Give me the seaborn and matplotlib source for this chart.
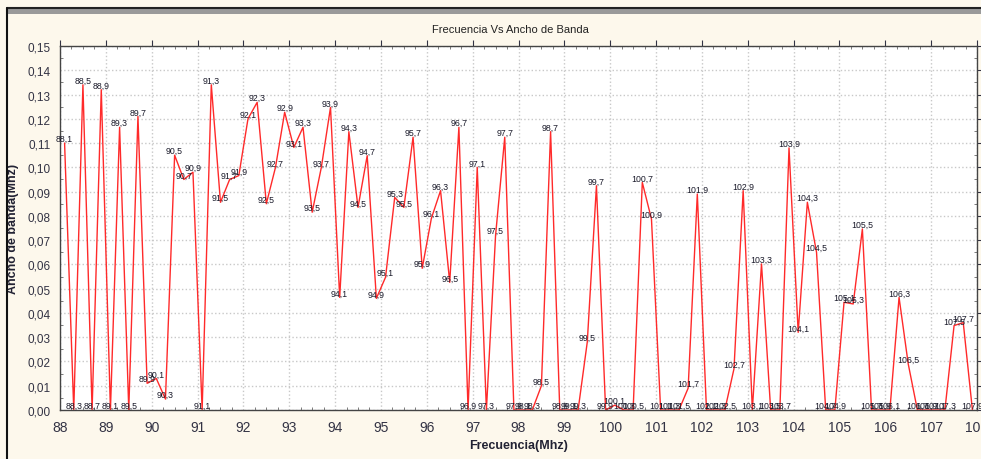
import pandas as pd
import matplotlib.pyplot as plt
import seaborn as sns
from matplotlib.patches import Rectangle
from matplotlib.lines import Line2D
from matplotlib.ticker import MultipleLocator, FuncFormatter

# frequencies (MHz) every 0.2 from 88.1 to 107.9
freqs = [88.1, 88.3, 88.5, 88.7, 88.9, 89.1, 89.3, 89.5, 89.7, 89.9,
         90.1, 90.3, 90.5, 90.7, 90.9, 91.1, 91.3, 91.5, 91.7, 91.9,
         92.1, 92.3, 92.5, 92.7, 92.9, 93.1, 93.3, 93.5, 93.7, 93.9,
         94.1, 94.3, 94.5, 94.7, 94.9, 95.1, 95.3, 95.5, 95.7, 95.9,
         96.1, 96.3, 96.5, 96.7, 96.9, 97.1, 97.3, 97.5, 97.7, 97.9,
         98.1, 98.3, 98.5, 98.7, 98.9, 99.1, 99.3, 99.5, 99.7, 99.9,
         100.1, 100.3, 100.5, 100.7, 100.9, 101.1, 101.3, 101.5, 101.7, 101.9,
         102.1, 102.3, 102.5, 102.7, 102.9, 103.1, 103.3, 103.5, 103.7, 103.9,
         104.1, 104.3, 104.5, 104.7, 104.9, 105.1, 105.3, 105.5, 105.7, 105.9,
         106.1, 106.3, 106.5, 106.7, 106.9, 107.1, 107.3, 107.5, 107.7, 107.9]

bandwidth = [0.110, 0.0, 0.134, 0.0, 0.132, 0.0, 0.1165, 0.0, 0.121, 0.011,
             0.013, 0.0045, 0.105, 0.095, 0.098, 0.0, 0.134, 0.0856, 0.095, 0.0966,
             0.120, 0.1268, 0.085, 0.100, 0.1227, 0.1082, 0.1165, 0.0815, 0.100, 0.1247,
             0.0464, 0.1147, 0.0835, 0.1048, 0.046, 0.0547, 0.0876, 0.0835, 0.1124, 0.0584,
             0.079, 0.0904, 0.0526, 0.1165, 0.0, 0.100, 0.0, 0.072, 0.1124, 0.0,
             0.0, 0.0, 0.010, 0.1147, 0.0, 0.0, 0.0, 0.028, 0.0924, 0.0,
             0.002, 0.0, 0.0, 0.0938, 0.0787, 0.0, 0.0, 0.0, 0.009, 0.089,
             0.0, 0.0, 0.0, 0.017, 0.0904, 0.0, 0.0602, 0.0, 0.0, 0.108,
             0.032, 0.0856, 0.065, 0.0, 0.0, 0.0444, 0.0437, 0.0746, 0.0, 0.0,
             0.0, 0.0464, 0.019, 0.0, 0.0, 0.0, 0.0, 0.0348, 0.036, 0.0]

df = pd.DataFrame({"Frecuencia": freqs, "Ancho": bandwidth})

sns.set_style("white")
plt.rcParams['font.family'] = ['Liberation Sans', 'DejaVu Sans']

bg = "#fdf8ec"
fig = plt.figure(figsize=(9.81, 4.60), dpi=100, facecolor=bg)
ax = fig.add_axes([60 / 981, 1 - 411 / 460, 917 / 981, 364 / 460])
ax.set_facecolor("white")

# window border decoration
fig.add_artist(Rectangle((7 / 981, 1 - 15 / 460), 1, 6 / 460, transform=fig.transFigure,
                         facecolor="#9a9a9a", edgecolor="none"))
fig.add_artist(Line2D([7 / 981, 1], [1 - 9 / 460, 1 - 9 / 460], transform=fig.transFigure,
                      color="#222222", lw=1.5))
fig.add_artist(Line2D([7 / 981, 7 / 981], [0, 1 - 9 / 460], transform=fig.transFigure,
                      color="#111111", lw=1.5))

sns.lineplot(data=df, x="Frecuencia", y="Ancho", ax=ax, color="#ff2a2a", lw=1.0)

for f, v in zip(freqs, bandwidth):
    ax.text(f, v, f"{f:.1f}".replace(".", ","), ha="center", va="bottom",
            fontsize=6.3, color="#1a1a2a")

ax.set_xlim(88, 108)
ax.set_ylim(0, 0.15)
ax.xaxis.set_major_locator(MultipleLocator(1))
ax.xaxis.set_minor_locator(MultipleLocator(0.25))
ax.yaxis.set_major_locator(MultipleLocator(0.01))
ax.yaxis.set_minor_locator(MultipleLocator(0.005))
ax.xaxis.set_major_formatter(FuncFormatter(lambda x, p: f"{x:.0f}"))
ax.yaxis.set_major_formatter(FuncFormatter(lambda y, p: f"{y:.2f}".replace(".", ",")))

ax.grid(True, which="major", color="#c8c8c8", linestyle=":", lw=1.0)
ax.tick_params(axis="x", which="major", direction="out", length=4, labelsize=10,
               colors="#333344", pad=3)
ax.tick_params(axis="y", which="major", direction="out", length=4, labelsize=8.5,
               colors="#333344", pad=3)
ax.tick_params(which="minor", direction="in", length=2, color="#666666",
               top=True, right=True, bottom=True, left=True)
ax.tick_params(which="major", top=True, right=True)
for s in ax.spines.values():
    s.set_color("#444444")
    s.set_linewidth(1.0)

ax.set_xlabel("Frecuencia(Mhz)", fontsize=9, fontweight="bold", color="#222233", labelpad=4)
ax.set_ylabel("Ancho de banda(Mhz)", fontsize=9, fontweight="bold", color="#222233", labelpad=6)
fig.text(0.52, 1 - 30 / 460, "Frecuencia Vs Ancho de Banda", ha="center", va="center",
         fontsize=8, color="#222222", family=["Liberation Sans Narrow", "Liberation Sans"])

fig.savefig("out.png", dpi=100, facecolor=bg)
